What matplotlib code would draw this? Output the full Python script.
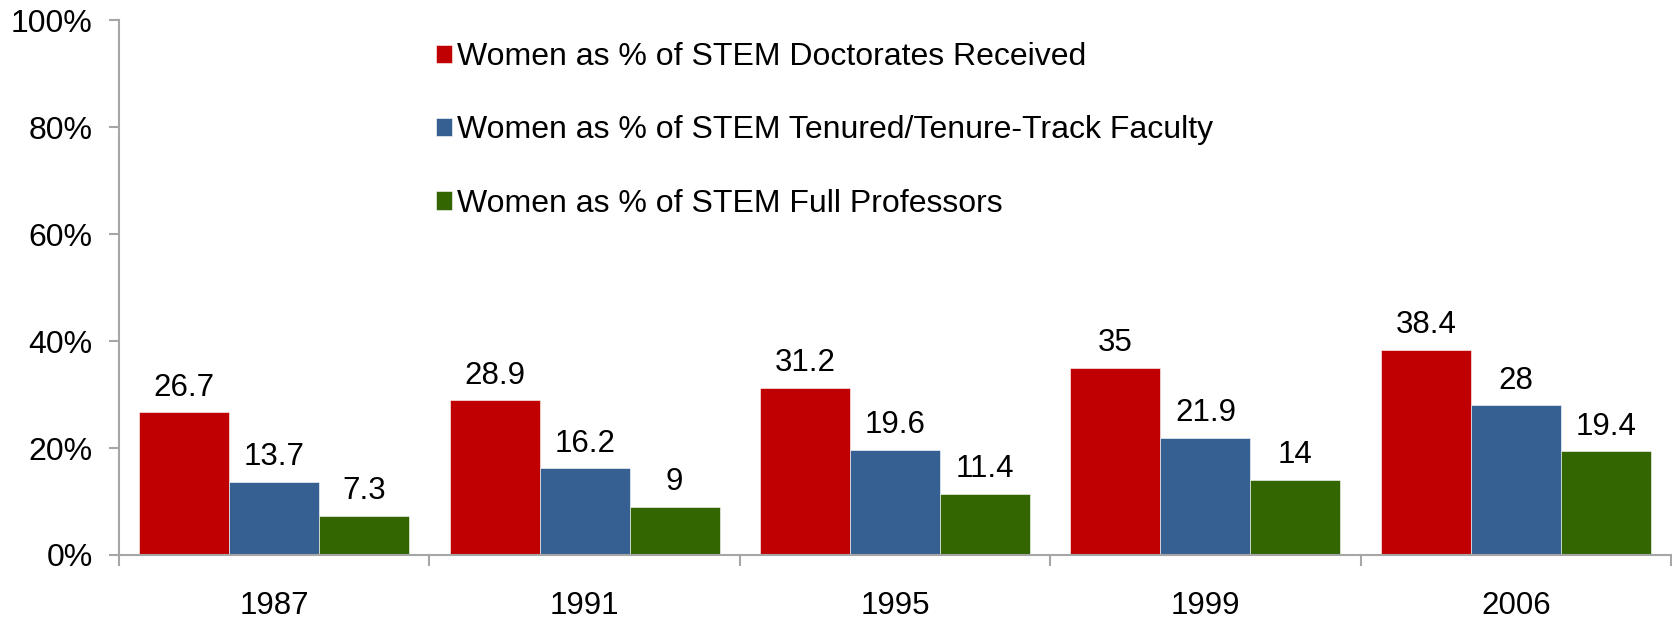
import matplotlib.pyplot as plt
import numpy as np
from matplotlib.ticker import FuncFormatter, FixedLocator

plt.rcParams['font.family'] = ['Liberation Sans', 'DejaVu Sans']

years = ['1987', '1991', '1995', '1999', '2006']
series_names = ['Women as % of STEM Doctorates Received',
                'Women as % of STEM Tenured/Tenure-Track Faculty',
                'Women as % of STEM Full Professors']
doctorates = [26.7, 28.9, 31.2, 35, 38.4]
faculty = [13.7, 16.2, 19.6, 21.9, 28]
professors = [7.3, 9, 11.4, 14, 19.4]
colors = ['#C00000', '#376092', '#336600']

fig = plt.figure(figsize=(16.72, 6.18), dpi=100)
ax = fig.add_axes([0.0712, 0.102, 0.9282, 0.865])

x = np.arange(len(years))
w = 0.29
for i, (vals, name, c) in enumerate(zip([doctorates, faculty, professors], series_names, colors)):
    bars = ax.bar(x + (i - 1) * w, vals, w, color=c, label=name,
                  edgecolor='white', linewidth=0.4)
    ax.bar_label(bars, labels=['%g' % v for v in vals], padding=7, fontsize=22.5)

ax.set_xlim(-0.5, len(years) - 0.5)
ax.set_ylim(0, 100)
ax.set_yticks(range(0, 101, 20))
ax.yaxis.set_major_formatter(FuncFormatter(lambda v, p: '%d%%' % v))
ax.set_xticks(x)
ax.set_xticklabels(years)
ax.xaxis.set_minor_locator(FixedLocator(np.arange(-0.5, len(years), 1)))

for s in ['top', 'right']:
    ax.spines[s].set_visible(False)
for s in ['left', 'bottom']:
    ax.spines[s].set_color('#A6A6A6')
    ax.spines[s].set_linewidth(1.5)

ax.tick_params(axis='y', length=7, width=1.5, color='#A6A6A6', labelsize=23, pad=12)
ax.tick_params(axis='x', which='major', length=0, labelsize=22.5, pad=26)
ax.tick_params(axis='x', which='minor', length=8, width=1.5, color='#A6A6A6')

ax.legend(loc='upper left', bbox_to_anchor=(0.2608, 0.932), bbox_transform=fig.transFigure,
          frameon=False, fontsize=23, handlelength=0.5, handleheight=0.5,
          handletextpad=0.17, labelspacing=1.36, borderaxespad=0, borderpad=0)

fig.savefig('out.png', dpi=100)
